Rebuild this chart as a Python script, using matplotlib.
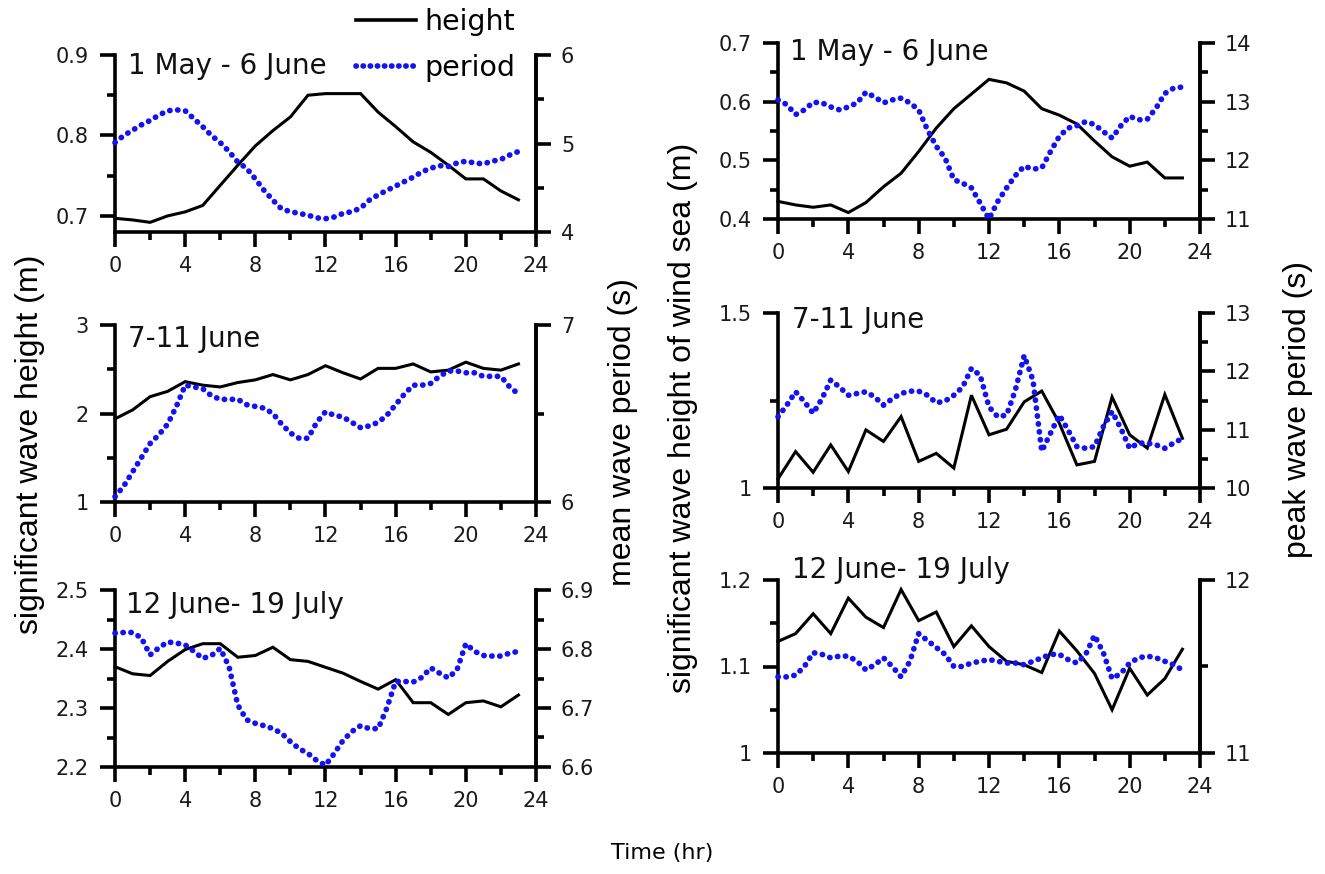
import matplotlib
matplotlib.use('Agg')
import matplotlib.pyplot as plt
from matplotlib.ticker import FixedLocator, FuncFormatter
from matplotlib.lines import Line2D

# ---------------- data ----------------
hours = list(range(24))
half_hours = [i * 0.5 for i in range(47)]

titles = ['1 May - 6 June', '7-11 June', '12 June- 19 July']

# left column: significant wave height (m) / mean wave period (s)
L1_height = [0.697, 0.695, 0.692, 0.700, 0.705, 0.713, 0.738, 0.763, 0.787, 0.806, 0.823, 0.850,
             0.852, 0.852, 0.852, 0.829, 0.811, 0.792, 0.779, 0.763, 0.746, 0.746, 0.731, 0.720]
L1_period = [5.01, 5.09, 5.15, 5.21, 5.26, 5.32, 5.37, 5.38, 5.37, 5.28, 5.19, 5.09, 5.01, 4.91,
             4.79, 4.72, 4.60, 4.47, 4.36, 4.26, 4.23, 4.21, 4.19, 4.16, 4.15, 4.17, 4.21, 4.23,
             4.27, 4.36, 4.42, 4.47, 4.52, 4.57, 4.62, 4.68, 4.72, 4.75, 4.74, 4.78, 4.80, 4.78,
             4.77, 4.80, 4.82, 4.87, 4.91]

L2_height = [1.94, 2.04, 2.19, 2.25, 2.36, 2.32, 2.30, 2.35, 2.38, 2.44, 2.38, 2.44,
             2.54, 2.46, 2.39, 2.51, 2.51, 2.56, 2.47, 2.49, 2.58, 2.51, 2.49, 2.56]
L2_period = [6.03, 6.09, 6.17, 6.25, 6.33, 6.38, 6.44, 6.54, 6.66, 6.65, 6.64, 6.60, 6.58, 6.58,
             6.58, 6.55, 6.54, 6.53, 6.50, 6.44, 6.39, 6.36, 6.36, 6.45, 6.51, 6.49, 6.48, 6.45,
             6.42, 6.43, 6.45, 6.49, 6.55, 6.61, 6.66, 6.66, 6.67, 6.71, 6.74, 6.74, 6.73, 6.73,
             6.71, 6.71, 6.71, 6.65, 6.61]

L3_height = [2.370, 2.358, 2.355, 2.379, 2.399, 2.409, 2.409, 2.386, 2.389, 2.403, 2.382, 2.379,
             2.369, 2.359, 2.345, 2.332, 2.348, 2.309, 2.309, 2.289, 2.309, 2.312, 2.302, 2.322]
L3_period = [6.827, 6.828, 6.828, 6.819, 6.790, 6.802, 6.812, 6.810, 6.807, 6.796, 6.784, 6.789,
             6.801, 6.770, 6.705, 6.680, 6.674, 6.670, 6.665, 6.657, 6.643, 6.631, 6.623, 6.611,
             6.603, 6.623, 6.645, 6.660, 6.670, 6.665, 6.665, 6.700, 6.745, 6.745, 6.744, 6.752,
             6.768, 6.759, 6.751, 6.765, 6.809, 6.796, 6.789, 6.788, 6.788, 6.793, 6.796]

# right column: significant wave height of wind sea (m) / peak wave period (s)
R1_height = [0.430, 0.424, 0.420, 0.424, 0.411, 0.428, 0.455, 0.478, 0.515, 0.555, 0.588, 0.613,
             0.638, 0.632, 0.618, 0.588, 0.577, 0.562, 0.533, 0.506, 0.490, 0.497, 0.470, 0.470]
R1_period = [13.03, 12.95, 12.78, 12.86, 12.99, 12.98, 12.91, 12.86, 12.91, 12.98, 13.16, 13.08,
             12.98, 13.03, 13.06, 12.98, 12.86, 12.52, 12.24, 12.04, 11.67, 11.61, 11.53, 11.27,
             11.00, 11.30, 11.53, 11.74, 11.90, 11.85, 11.87, 12.15, 12.41, 12.55, 12.59, 12.66,
             12.61, 12.49, 12.38, 12.59, 12.75, 12.69, 12.70, 12.89, 13.14, 13.23, 13.25]

R2_height = [1.026, 1.104, 1.045, 1.123, 1.047, 1.166, 1.133, 1.204, 1.076, 1.099, 1.057, 1.265,
             1.152, 1.168, 1.246, 1.277, 1.185, 1.066, 1.076, 1.260, 1.152, 1.114, 1.267, 1.142]
R2_period = [11.22, 11.42, 11.65, 11.48, 11.28, 11.53, 11.85, 11.73, 11.59, 11.62, 11.65, 11.56,
             11.42, 11.53, 11.62, 11.66, 11.66, 11.59, 11.46, 11.49, 11.59, 11.73, 12.05, 11.93,
             11.39, 11.22, 11.25, 11.68, 12.27, 11.85, 10.63, 10.94, 11.25, 10.99, 10.71, 10.68,
             10.71, 11.05, 11.31, 11.02, 10.68, 10.77, 10.77, 10.74, 10.68, 10.77, 10.85]

R3_height = [1.129, 1.138, 1.161, 1.138, 1.179, 1.157, 1.145, 1.189, 1.153, 1.163, 1.123, 1.147,
             1.123, 1.106, 1.102, 1.093, 1.141, 1.118, 1.092, 1.050, 1.098, 1.067, 1.086, 1.120]
R3_period = [11.44, 11.44, 11.45, 11.50, 11.58, 11.57, 11.55, 11.56, 11.56, 11.53, 11.48, 11.51,
             11.55, 11.50, 11.44, 11.53, 11.69, 11.65, 11.61, 11.57, 11.50, 11.50, 11.52, 11.53,
             11.54, 11.53, 11.52, 11.52, 11.51, 11.53, 11.55, 11.57, 11.57, 11.54, 11.52, 11.57,
             11.68, 11.58, 11.43, 11.46, 11.52, 11.55, 11.56, 11.55, 11.53, 11.51, 11.48]

x_major = [0, 4, 8, 12, 16, 20, 24]
x_minor = [2, 6, 10, 14, 18, 22]

# ---------------- styling ----------------
W, H = 1325, 874
fig = plt.figure(figsize=(W / 100, H / 100), dpi=100)
HFONT = 'DejaVu Sans'
VFONT = 'Liberation Sans'
BLUE = '#1212f2'
SPINE_LW = 2.6
TICK_FS = 15
TITLE_FS = 20
DOTS = (0, (0.05, 1.35))

def rect(l, r, t, b):
    return [l / W, 1 - b / H, (r - l) / W, (b - t) / H]

fmt = FuncFormatter(lambda v, p: f'{v:g}')

panels = [
    dict(r=(115, 536, 55, 232), title=titles[0], tpos=(128, 74), h=L1_height, hl=(0.68, 0.9),
         hmaj=[0.7, 0.8, 0.9], hmin=[0.75, 0.85], p=L1_period, pl=(4, 6), pmaj=[4, 5, 6], pmin=[4.5, 5.5]),
    dict(r=(115, 536, 325, 502), title=titles[1], tpos=(128, 347), h=L2_height, hl=(1, 3),
         hmaj=[1, 2, 3], hmin=[1.5, 2.5], p=L2_period, pl=(6, 7), pmaj=[6, 7], pmin=[6.5]),
    dict(r=(115, 536, 590, 767), title=titles[2], tpos=(126, 613), h=L3_height, hl=(2.2, 2.5),
         hmaj=[2.2, 2.3, 2.4, 2.5], hmin=[2.25, 2.35, 2.45], p=L3_period, pl=(6.6, 6.9),
         pmaj=[6.6, 6.7, 6.8, 6.9], pmin=[6.65, 6.75, 6.85]),
    dict(r=(778, 1200, 43, 219), title=titles[0], tpos=(790, 60), h=R1_height, hl=(0.4, 0.7),
         hmaj=[0.4, 0.5, 0.6, 0.7], hmin=[0.45, 0.55, 0.65], p=R1_period, pl=(11, 14),
         pmaj=[11, 12, 13, 14], pmin=[11.5, 12.5, 13.5]),
    dict(r=(778, 1200, 313, 488), title=titles[1], tpos=(792, 328), h=R2_height, hl=(1, 1.5),
         hmaj=[1, 1.5], hmin=[1.25], p=R2_period, pl=(10, 13), pmaj=[10, 11, 12, 13],
         pmin=[10.5, 11.5, 12.5]),
    dict(r=(778, 1200, 580, 753), title=titles[2], tpos=(792, 578), h=R3_height, hl=(1, 1.2),
         hmaj=[1, 1.1, 1.2], hmin=[1.05, 1.15], p=R3_period, pl=(11, 12), pmaj=[11, 12], pmin=[11.5]),
]

def style_axis(ax):
    for s in ax.spines.values():
        s.set_linewidth(SPINE_LW)
    ax.spines['top'].set_visible(False)
    ax.tick_params(which='major', length=11, width=SPINE_LW, direction='out', labelsize=TICK_FS,
                   colors='black', labelcolor='#1a1a1a')
    ax.tick_params(which='minor', length=5.5, width=SPINE_LW, direction='out')
    for lab in ax.get_xticklabels() + ax.get_yticklabels():
        lab.set_fontfamily(HFONT)

for P in panels:
    ax = fig.add_axes(rect(*P['r']))
    ax2 = ax.twinx()
    ax.plot(hours, P['h'], color='black', lw=2.2, solid_joinstyle='miter', clip_on=False, zorder=3)
    ax2.plot(half_hours, P['p'], color=BLUE, lw=4.1, linestyle=DOTS,
             dash_capstyle='round', clip_on=False, zorder=3)
    ax.set_xlim(0, 24)
    ax.set_ylim(*P['hl'])
    ax2.set_ylim(*P['pl'])
    ax.xaxis.set_major_locator(FixedLocator(x_major))
    ax.xaxis.set_minor_locator(FixedLocator(x_minor))
    ax.yaxis.set_major_locator(FixedLocator(P['hmaj']))
    ax.yaxis.set_minor_locator(FixedLocator(P['hmin']))
    ax2.yaxis.set_major_locator(FixedLocator(P['pmaj']))
    ax2.yaxis.set_minor_locator(FixedLocator(P['pmin']))
    ax.yaxis.set_major_formatter(fmt)
    ax2.yaxis.set_major_formatter(fmt)
    ax.xaxis.set_major_formatter(fmt)
    ax.patch.set_visible(False)
    style_axis(ax)
    style_axis(ax2)
    ax.tick_params(axis='x', which='major', pad=6)
    ax.tick_params(axis='y', which='major', pad=8)
    ax2.tick_params(axis='y', which='major', pad=7)
    ax2.spines['left'].set_visible(False)
    ax2.spines['bottom'].set_visible(False)
    tx, ty = P['tpos']
    fig.text(tx / W, 1 - ty / H, P['title'], fontsize=TITLE_FS, family=HFONT, ha='left',
             va='baseline', color='#111111')

# axis labels
LAB_FS = 23
fig.text(30 / W, 1 - 444 / H, 'significant wave height (m)', rotation=90, fontsize=LAB_FS,
         family=VFONT, ha='center', va='center')
fig.text(623 / W, 1 - 432 / H, 'mean wave period (s)', rotation=90, fontsize=LAB_FS,
         family=VFONT, ha='center', va='center')
fig.text(683 / W, 1 - 418 / H, 'significant wave height of wind sea (m)', rotation=90,
         fontsize=LAB_FS, family=VFONT, ha='center', va='center')
fig.text(1298 / W, 1 - 410 / H, 'peak wave period (s)', rotation=90, fontsize=LAB_FS,
         family=VFONT, ha='center', va='center')
fig.text(662 / W, 1 - 853 / H, 'Time (hr)', fontsize=16, family=HFONT, ha='center', va='center')

# legend
handles = [Line2D([], [], color='black', lw=2.6),
           Line2D([], [], color=BLUE, lw=4.1, linestyle=(0, (0.05, 1.2)), dash_capstyle='round')]
leg = fig.legend(handles, ['height', 'period'], loc='upper left',
                 bbox_to_anchor=(356 / W, 1 - 8 / H), frameon=False, borderpad=0,
                 borderaxespad=0, handlelength=2.1, handletextpad=0.3, labelspacing=0.62,
                 prop={'family': HFONT, 'size': 20.5})

fig.savefig('out.png', dpi=100)
